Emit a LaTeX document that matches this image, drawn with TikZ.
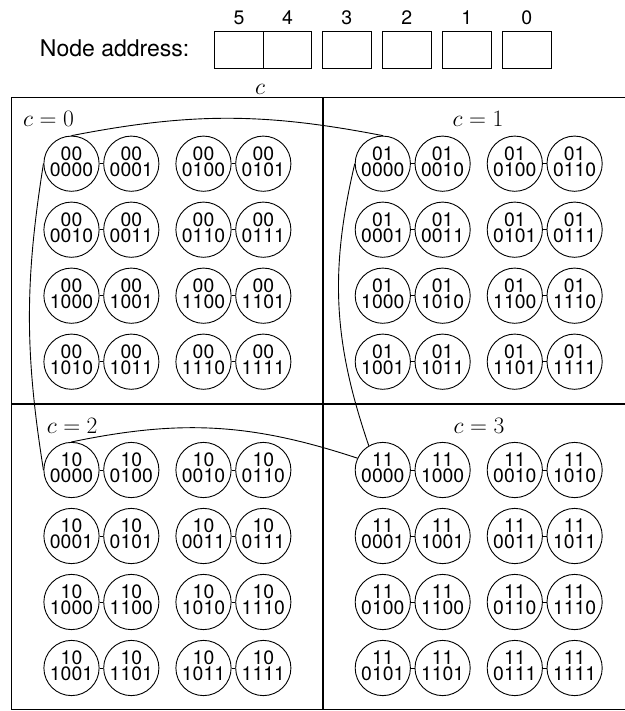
\RequirePackage{fix-cm}
\documentclass[tikz,border=0pt]{standalone}
\usepackage{fontspec}
\setmainfont{TeX Gyre Heros}
\usetikzlibrary{calc}

\tikzset{
  pe/.style={circle, draw, line width=0.9pt, minimum size=53.5pt, inner sep=0pt,
    align=center, font=\fontsize{19.4}{16}\selectfont},
  bitbox/.style={draw, line width=0.9pt, minimum width=48.5pt, minimum height=36.6pt, inner sep=0pt},
  bitlab/.style={anchor=base, inner sep=0pt, font=\fontsize{19.5}{22}\selectfont},
  mlab/.style={inner sep=0pt, font=\fontsize{23.5}{28}\selectfont},
  frame/.style={line width=1.3pt},
  link/.style={line width=0.9pt}
}

\newcommand\pelift{\rule[-5pt]{0pt}{5pt}}
\newcommand\pegrid[5]{%
  \foreach \rw/\qa/\qb/\qc/\qd in {#5}{
    \node[pe] (n#1-\rw-1) at ({#2+59.8},{#3+66*\rw}) {#4\\\qa\pelift};
    \node[pe] (n#1-\rw-2) at ({#2+119.6},{#3+66*\rw}) {#4\\\qb\pelift};
    \node[pe] (n#1-\rw-3) at ({#2+191.8},{#3+66*\rw}) {#4\\\qc\pelift};
    \node[pe] (n#1-\rw-4) at ({#2+251.6},{#3+66*\rw}) {#4\\\qd\pelift};
    \draw[link] (n#1-\rw-1) -- (n#1-\rw-2);
    \draw[link] (n#1-\rw-3) -- (n#1-\rw-4);
  }%
}

\begin{document}
\begin{tikzpicture}[x=1pt,y=-1pt]
\useasboundingbox (0,0) rectangle (624,711);

% address header
\node[anchor=base east, inner sep=0pt, font=\fontsize{23}{27}\selectfont] (addr) at (189.5,56.7) {Node address:};
\node[bitbox] (b5) at (239,50) {};
\node[bitbox] (b4) at (287.5,50) {};
\node[bitbox] (b3) at (346.8,50) {};
\node[bitbox] (b2) at (406.8,50) {};
\node[bitbox] (b1) at (466.8,50) {};
\node[bitbox] (b0) at (526.8,50) {};
\node[bitlab] (l5) at (239,25) {5};
\node[bitlab] (l4) at (287.5,25) {4};
\node[bitlab] (l3) at (346.8,25) {3};
\node[bitlab] (l2) at (406.8,25) {2};
\node[bitlab] (l1) at (466.8,25) {1};
\node[bitlab] (l0) at (526.8,25) {0};
\node[mlab, anchor=base] (clab) at (260,95) {$c$};

% frame
\draw[frame] (11.7,97.7) rectangle (640,709.5);
\draw[frame] (323,97.7) -- (323,709.5);
\draw[frame] (11.7,404) -- (640,404);

% block labels
\node[mlab, anchor=base west] (lab0) at (23,126.5) {$c=0$};
\node[mlab, anchor=base] (lab1) at (478,126.5) {$c=1$};
\node[mlab, anchor=base west] (lab2) at (46.7,433) {$c=2$};
\node[mlab, anchor=base] (lab3) at (479,433) {$c=3$};

% processing elements
\pegrid{0}{11.7}{97.7}{00}{1/0000/0001/0100/0101, 2/0010/0011/0110/0111, 3/1000/1001/1100/1101, 4/1010/1011/1110/1111}
\pegrid{1}{323}{97.7}{01}{1/0000/0010/0100/0110, 2/0001/0011/0101/0111, 3/1000/1010/1100/1110, 4/1001/1011/1101/1111}
\pegrid{2}{11.7}{404}{10}{1/0000/0100/0010/0110, 2/0001/0101/0011/0111, 3/1000/1100/1010/1110, 4/1001/1101/1011/1111}
\pegrid{3}{323}{404}{11}{1/0000/1000/0010/1010, 2/0001/1001/0011/1011, 3/0100/1100/0110/1110, 4/0101/1101/0111/1111}

% inter-cluster links
\draw[link] (n0-1-1.north) to[bend left=11] (n1-1-1.north);
\draw[link] (n0-1-1.west) to[bend right=9] (n2-1-1.west);
\draw[link] (n1-1-1.west) to[bend right=16] (n3-1-1.120);
\draw[link] (n2-1-1.north) to[bend left=15] (n3-1-1.155);
\end{tikzpicture}
\end{document}
